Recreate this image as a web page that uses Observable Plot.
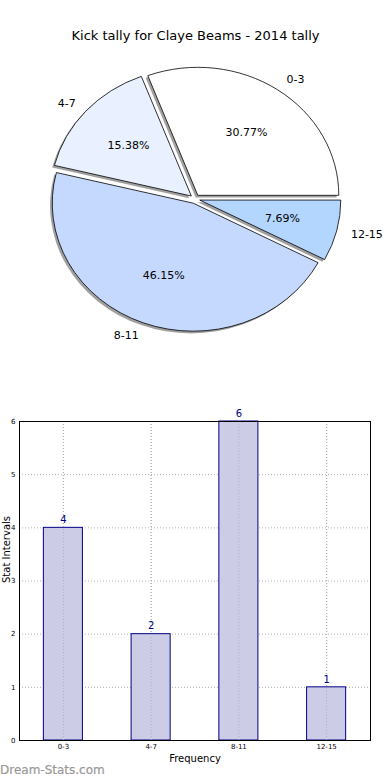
<!DOCTYPE html>
<html>
<head>
<meta charset="utf-8">
<script src="https://cdn.jsdelivr.net/npm/d3@7"></script>
<script src="https://cdn.jsdelivr.net/npm/@observablehq/plot@0.6"></script>
<style>
  html, body { margin: 0; padding: 0; background: #fff; }
  #wrap { position: relative; width: 390px; height: 780px; overflow: hidden; font-family: "DejaVu Sans", sans-serif; }
  #pie { position: absolute; left: 0; top: 0; }
  #bar { position: absolute; left: 0; top: 400px; }
  #mark { position: absolute; left: 0; top: 763px; font-size: 12px; color: #999999; font-family: "DejaVu Sans", sans-serif; -webkit-text-stroke: 0.2px #999999; }
  svg { overflow: visible; }
</style>
</head>
<body>
<div id="wrap">
  <div id="pie"></div>
  <div id="bar"></div>
  <div id="mark">Dream-Stats.com</div>
</div>
<script>
const title = "Kick tally for Claye Beams - 2014 tally";
const categories = ["0-3", "4-7", "8-11", "12-15"];
const counts = [4, 2, 6, 1];
const sliceColors = ["#ffffff", "#e9f0ff", "#c5d9ff", "#b3d6ff"];
const yTicks = [0, 1, 2, 3, 4, 5, 6];
const xLabel = "Frequency";
const yLabel = "Stat Intervals";

const font = "DejaVu Sans";
const total = d3.sum(counts);
const explode = 0.035;

// pie geometry (matplotlib style: start at 0 rad, counterclockwise)
let acc = 0;
const slices = categories.map((c, i) => {
  const a0 = acc / total * 2 * Math.PI;
  acc += counts[i];
  const a1 = acc / total * 2 * Math.PI;
  const mid = (a0 + a1) / 2;
  const ox = explode * Math.cos(mid), oy = explode * Math.sin(mid);
  return {
    cat: c, value: counts[i], a0, a1, mid, ox, oy, color: sliceColors[i],
    pct: (counts[i] / total * 100).toFixed(2) + "%",
    lx: ox + 1.1 * Math.cos(mid), ly: oy + 1.1 * Math.sin(mid),
    px: ox + 0.6 * Math.cos(mid), py: oy + 0.6 * Math.sin(mid)
  };
});

function slicesMark(index, scales) {
  const {x, y} = scales;
  const rx = x(1) - x(0), ry = y(0) - y(1);
  const g = d3.create("svg:g");
  const path = (s, sx, sy) => {
    const cx = x(s.ox) + sx, cy = y(s.oy) + sy;
    const p0 = [cx + rx * Math.cos(s.a0), cy - ry * Math.sin(s.a0)];
    const p1 = [cx + rx * Math.cos(s.a1), cy - ry * Math.sin(s.a1)];
    const large = (s.a1 - s.a0) > Math.PI ? 1 : 0;
    return `M${cx},${cy}L${p0[0]},${p0[1]}A${rx},${ry} 0 ${large} 0 ${p1[0]},${p1[1]}Z`;
  };
  g.append("g").selectAll("path").data(slices).join("path")
    .attr("d", s => path(s, -2.2, 2.2))
    .attr("fill", "#808080").attr("fill-opacity", 0.75);
  g.append("g").selectAll("path").data(slices).join("path")
    .attr("d", s => path(s, 0, 0))
    .attr("fill", s => s.color).attr("stroke", "#000").attr("stroke-width", 0.8);
  return g.node();
}

const rightLabels = slices.filter(d => d.lx > 0);
const leftLabels = slices.filter(d => d.lx <= 0);

const pie = Plot.plot({
  width: 390, height: 390,
  margin: 0,
  x: {domain: [-1, 1], range: [195 - 141, 195 + 141], axis: null},
  y: {domain: [-1, 1], range: [199 + 128, 199 - 128], axis: null},
  style: {fontFamily: font, background: "transparent"},
  marks: [
    slicesMark,
    Plot.text(slices, {x: "px", y: "py", text: "pct", fontSize: 11, fill: "#000"}),
    Plot.text(rightLabels, {x: "lx", y: "ly", text: "cat", fontSize: 11, fill: "#000", textAnchor: "start"}),
    Plot.text(leftLabels, {x: "lx", y: "ly", text: "cat", fontSize: 11, fill: "#000", textAnchor: "end"}),
    Plot.text([title], {frameAnchor: "top", dy: 30, fontSize: 13, fill: "#000"})
  ]
});
document.getElementById("pie").appendChild(pie);

const barData = categories.map((c, i) => ({cat: c, n: counts[i]}));

const bar = Plot.plot({
  width: 390, height: 380,
  marginTop: 21, marginBottom: 40, marginLeft: 19, marginRight: 20,
  style: {fontFamily: font, background: "transparent", fontSize: "7px"},
  x: {domain: categories, paddingInner: 0.555, paddingOuter: 0.2775, align: 0.5, round: false, label: null, tickSize: 0, tickPadding: 4},
  y: {domain: [0, 6], ticks: yTicks, label: null, tickSize: 0, tickPadding: 4, tickFormat: d3.format("d")},
  marks: [
    Plot.ruleY(yTicks, {stroke: "#b0b0b0", strokeDasharray: "1,2", strokeWidth: 1}),
    Plot.ruleX(categories, {x: d => d, stroke: "#b0b0b0", strokeDasharray: "1,2", strokeWidth: 1}),
    Plot.barY(barData, {x: "cat", y: "n", fill: "#ccccE6", stroke: "#000088", strokeWidth: 1}),
    Plot.ruleX(categories, {x: d => d, stroke: "#b0b0b0", strokeDasharray: "1,2", strokeWidth: 1}),
    Plot.text(barData, {x: "cat", y: "n", text: d => String(d.n), dy: -8, fill: "#000088", fontSize: 10}),
    Plot.frame({stroke: "#000", strokeWidth: 1}),
    Plot.text([xLabel], {frameAnchor: "bottom", dy: 21, fontSize: 10, fill: "#000"}),
    Plot.text([yLabel], {frameAnchor: "left", dx: -13, dy: 2, rotate: -90, fontSize: 10, fill: "#000"})
  ]
});
document.getElementById("bar").appendChild(bar);
</script>
</body>
</html>
